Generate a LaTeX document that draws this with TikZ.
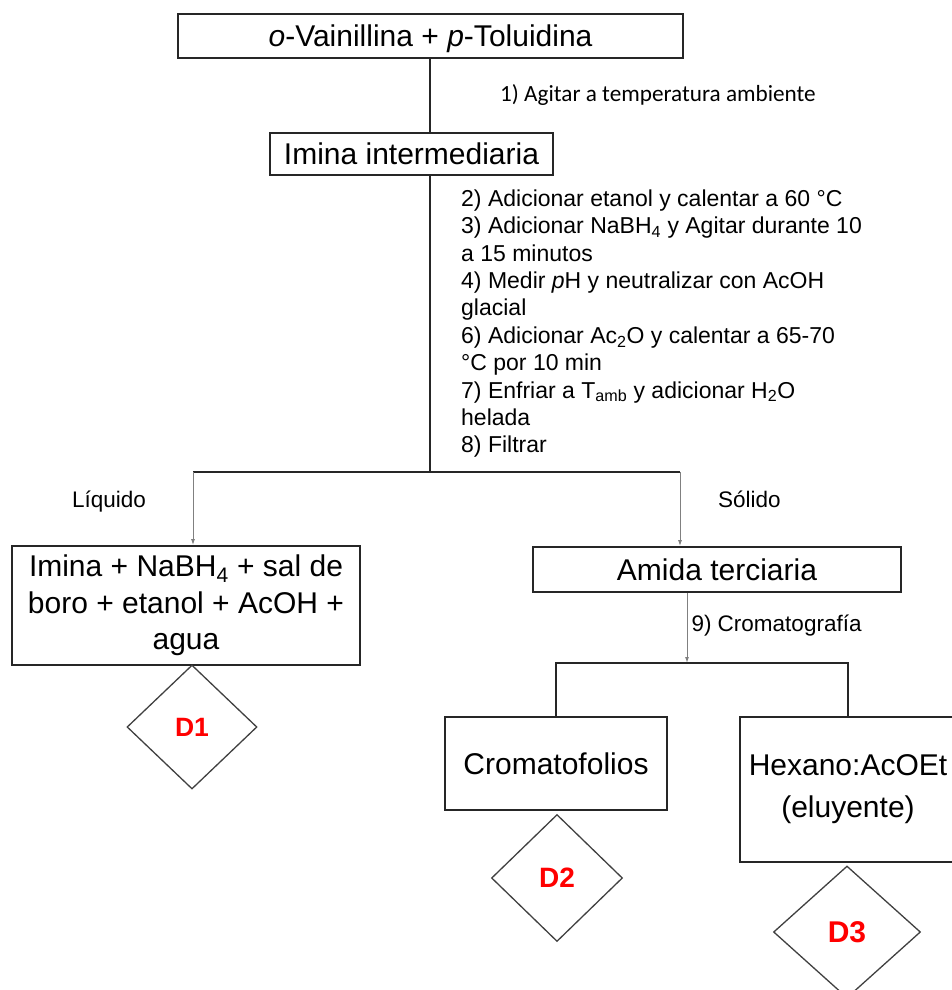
\documentclass[tikz,border=0pt]{standalone}
\usepackage{fontspec}
\setmainfont{Liberation Sans}
\newfontfamily\calibri{Carlito}
\usetikzlibrary{positioning,arrows.meta,shapes.geometric}
\tikzset{
  caja/.style={draw=black!85, line width=1.8pt, inner sep=0pt, align=center, font=\fontsize{30}{36.5}\selectfont},
  rombo/.style={diamond, draw=black!75, line width=1.3pt, inner sep=0pt, text=red, font=\bfseries\fontsize{28}{30}\selectfont},
  linea/.style={draw=black!85, line width=1.5pt},
  flecha/.style={-{Latex[length=6pt,width=4pt]}, draw=gray, line width=1pt},
  rotulo/.style={inner sep=0pt, anchor=base west, font=\fontsize{22.5}{27}\selectfont},
  pasos/.style={inner sep=0pt, anchor=north west, align=left, font=\fontsize{23}{27.4}\selectfont},
}

\begin{document}
\begin{tikzpicture}[x=1pt, y=-1pt]
\clip (0,0) rectangle (952,990);
%Nodes
\node[caja, minimum width=505pt, minimum height=44pt, text depth=0pt] (reactivos) at (430.5,36) {\textit{o}-Vainillina + \textit{p}-Toluidina};
\node[caja, minimum width=283pt, minimum height=42pt] (imina) at (411.5,154) {Imina intermediaria};
\node[rotulo, font=\calibri\fontsize{23.2}{27}\selectfont] (paso1) at (500,101) {1) Agitar a temperatura ambiente};
\node[pasos] (pasos) at (461,189.5) {2) Adicionar etanol y calentar a 60 °C\\
3) Adicionar NaBH\textsubscript{4} y Agitar durante 10\\
a 15 minutos\\
4) Medir \textit{p}H y neutralizar con AcOH\\
glacial\\
6) Adicionar Ac\textsubscript{2}O y calentar a 65-70\\
°C por 10 min\\
7) Enfriar a T\textsubscript{amb} y adicionar H\textsubscript{2}O\\
helada\\
8) Filtrar};
\node[rotulo] (liq) at (72,507) {Líquido};
\node[rotulo] (sol) at (718,507) {Sólido};
\node[caja, minimum width=348pt, minimum height=119pt] (liquido) at (186,605.5) {Imina + NaBH\textsubscript{4} + sal de\\boro + etanol + AcOH +\\agua};
\node[caja, minimum width=368pt, minimum height=45pt] (amida) at (717,569.5) {Amida terciaria};
\node[caja, minimum width=222pt, minimum height=93pt] (placas) at (556,763.5) {Cromatofolios};
\node[caja, minimum width=216pt, minimum height=145pt, font=\fontsize{30}{42}\selectfont] (eluyente) at (848,789.5) {Hexano:AcOEt\\(eluyente)};
\node[rombo, minimum width=130pt, minimum height=124pt, font=\bfseries\fontsize{26.5}{30}\selectfont] (d1) at (192,727) {D1};
\node[rombo, minimum width=131pt, minimum height=127pt] (d2) at (557,878) {D2};
\node[rombo, minimum width=147pt, minimum height=132pt, font=\bfseries\fontsize{30}{32}\selectfont] (d3) at (847,932) {D3};

\coordinate (ramif) at (430,472);
\coordinate (izq) at (193,472);
\coordinate (der) at (680,472);
\coordinate (crom) at (687,663);

%Lines
\draw[linea] (reactivos.south -| ramif) -- (imina.north -| ramif);
\draw[linea] (imina.south -| ramif) -- (ramif);
\draw[linea] (izq) -- (der);
\draw[flecha] (izq) -- (izq |- liquido.north);
\draw[flecha] (der) -- (der |- amida.north);
\draw[flecha] (amida.south -| crom) -- (crom) node[rotulo, pos=0.5, xshift=4pt, yshift=-3.5pt] {9) Cromatografía};
\draw[linea] (placas.north) -- (placas.north |- crom) -- (eluyente.north |- crom) -- (eluyente.north);
\end{tikzpicture}
\end{document}
